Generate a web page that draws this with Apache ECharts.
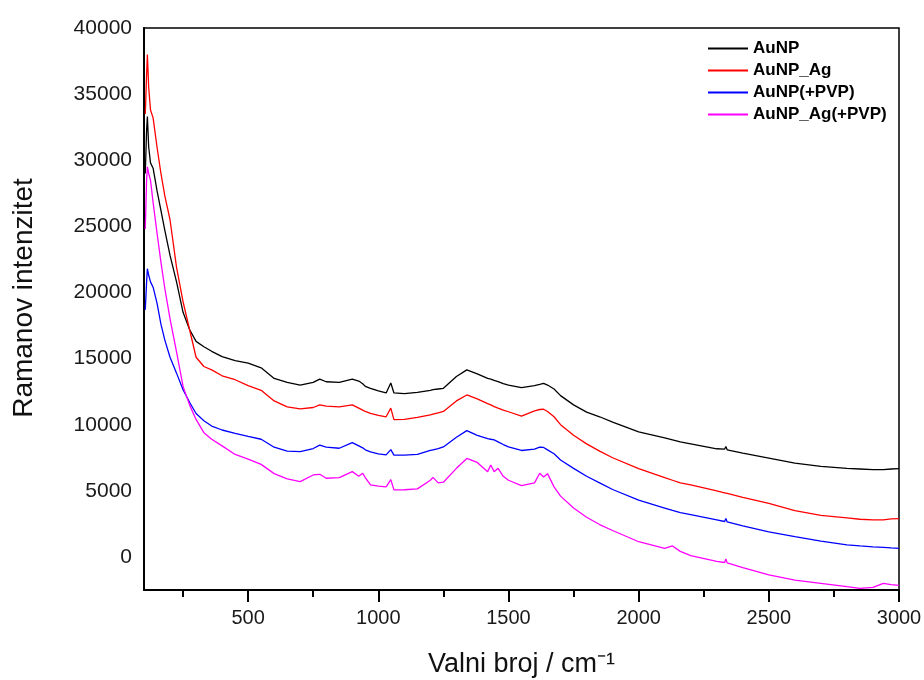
<!DOCTYPE html>
<html>
<head>
<meta charset="utf-8">
<script src="https://cdn.jsdelivr.net/npm/echarts@6/dist/echarts.min.js"></script>
<style>html,body{margin:0;padding:0;background:#fff}#c{width:924px;height:680px}</style>
</head>
<body>
<div id="c"></div>
<script>
var seriesNames = ['AuNP', 'AuNP_Ag', 'AuNP(+PVP)', 'AuNP_Ag(+PVP)'];
var xTicks = [500, 1000, 1500, 2000, 2500, 3000];
var xMinorTicks = [250, 750, 1250, 1750, 2250, 2750];
var yTicks = [0, 5000, 10000, 15000, 20000, 25000, 30000, 35000, 40000];

var wavenumber = [105,110,113,118,125,135,150,165,180,200,225,250,275,300,330,360,400,450,500,550,600,650,700,750,775,800,850,900,925,940,950,970,1000,1030,1048,1060,1100,1150,1200,1210,1230,1250,1300,1340,1380,1420,1432,1445,1460,1480,1500,1550,1600,1620,1635,1650,1675,1700,1750,1800,1850,1900,2000,2100,2130,2160,2200,2300,2330,2335,2340,2400,2500,2600,2700,2800,2850,2900,2940,2970,3000];

var auNP = [29000,32300,33300,31000,29800,29400,27700,26200,24700,22800,20800,18500,17200,16300,15900,15550,15150,14850,14650,14300,13500,13200,13000,13200,13450,13250,13200,13450,13300,13100,12900,12750,12550,12400,13150,12400,12350,12450,12600,12650,12700,12750,13650,14150,13850,13500,13450,13350,13250,13100,13000,12800,12950,13050,13130,13000,12700,12200,11500,10950,10600,10200,9450,9000,8850,8700,8550,8180,8150,8350,8100,7850,7480,7100,6850,6700,6650,6600,6600,6650,6680];

var auNPAg = [33500,36500,38000,35500,33800,33200,31000,29000,27300,25500,21900,19300,17200,15100,14400,14150,13700,13400,12950,12600,11800,11350,11200,11300,11500,11400,11350,11500,11250,11100,11000,10850,10700,10600,11250,10380,10400,10550,10750,10800,10900,11000,11800,12250,11950,11600,11500,11370,11250,11100,10980,10650,11050,11150,11170,11000,10600,10000,9200,8550,8000,7500,6680,6000,5800,5600,5450,5000,4850,5000,4800,4500,4050,3500,3150,2950,2850,2800,2800,2880,2900];

var auNPPVP = [18700,20800,21800,21300,20800,20400,19200,17600,16400,15100,13900,12650,11700,10850,10300,9900,9600,9350,9120,8900,8300,8000,7960,8200,8450,8300,8220,8650,8400,8250,8100,7950,7800,7720,8120,7700,7700,7750,8050,8100,8200,8320,9050,9550,9200,8950,8900,8850,8700,8500,8320,8050,8150,8300,8280,8100,7800,7330,6700,6100,5600,5100,4300,3700,3520,3350,3200,2800,2680,2900,2650,2350,1900,1530,1200,920,830,760,720,680,650];

var auNPAgPVP = [24800,28500,29500,29000,28500,26800,24500,22300,20300,18000,15500,12900,11500,10400,9400,8900,8400,7750,7400,7000,6300,5900,5700,6200,6250,5950,6000,6450,6100,6330,6000,5450,5350,5300,5850,5070,5080,5150,5800,6020,5600,5650,6700,7450,7150,6450,6950,6450,6700,6100,5800,5400,5600,6330,6050,6300,5300,4600,3700,3000,2450,2000,1150,650,830,420,100,-330,-420,-150,-450,-800,-1350,-1750,-2000,-2250,-2370,-2300,-2000,-2100,-2150];

var colors = ['#000000', '#ff0000', '#0000ff', '#ff00ff'];
var values = [auNP, auNPAg, auNPPVP, auNPAgPVP];

function pairs(ys) {
  return wavenumber.map(function (x, i) { return [x, ys[i]]; });
}
function plain(v) { return String(v); }

var chart = echarts.init(document.getElementById('c'), null, {renderer: 'canvas'});
var font = 'Liberation Sans, Arial, sans-serif';
chart.setOption({
  animation: false,
  backgroundColor: '#ffffff',
  grid: {left: 144, right: 25, top: 28, bottom: 90, show: true, borderColor: '#000', borderWidth: 1.5, containLabel: false, outerBoundsMode: 'none'},
  legend: {
    orient: 'vertical', left: 703, top: 35,
    itemWidth: 40, itemHeight: 2, itemGap: 5,
    icon: 'rect',
    textStyle: {fontFamily: font, fontSize: 17, fontWeight: 'bold', color: '#000', lineHeight: 17},
    data: seriesNames
  },
  xAxis: [{
    type: 'value', min: 100, max: 3000,
    name: 'Valni broj / cm\u207B\u00B9', nameLocation: 'middle', nameGap: 61,
    nameTextStyle: {fontFamily: font, fontSize: 27, color: '#111'},
    axisLine: {show: true, onZero: false, lineStyle: {color: '#000', width: 2}},
    axisTick: {show: true, length: 12, inside: false, lineStyle: {color: '#000', width: 2}, customValues: xTicks},
    axisLabel: {fontFamily: font, fontSize: 20, color: '#1a1a1a', margin: 18, customValues: xTicks, formatter: plain},
    splitLine: {show: false}
  }, {
    type: 'value', min: 100, max: 3000, position: 'bottom',
    axisLine: {show: false, onZero: false},
    axisTick: {show: true, length: 7, inside: false, lineStyle: {color: '#000', width: 2}, customValues: xMinorTicks},
    axisLabel: {show: false},
    splitLine: {show: false}
  }],
  yAxis: {
    type: 'value', min: -2500, max: 40000,
    name: 'Ramanov intenzitet', nameLocation: 'middle', nameGap: 106, nameRotate: 90,
    nameTextStyle: {fontFamily: font, fontSize: 28, color: '#111', padding: [0, 0, 0, 22]},
    axisLine: {show: true, onZero: false, lineStyle: {color: '#000', width: 2}},
    axisTick: {show: false},
    axisLabel: {fontFamily: font, fontSize: 21, color: '#1a1a1a', margin: 12, customValues: yTicks, formatter: plain},
    splitLine: {show: false}
  },
  series: seriesNames.map(function (n, i) {
    return {
      name: n, type: 'line', xAxisIndex: 0, data: pairs(values[i]),
      showSymbol: false, symbol: 'none', smooth: false,
      lineStyle: {color: colors[i], width: 1.3},
      itemStyle: {color: colors[i]}
    };
  })
});
</script>
</body>
</html>
